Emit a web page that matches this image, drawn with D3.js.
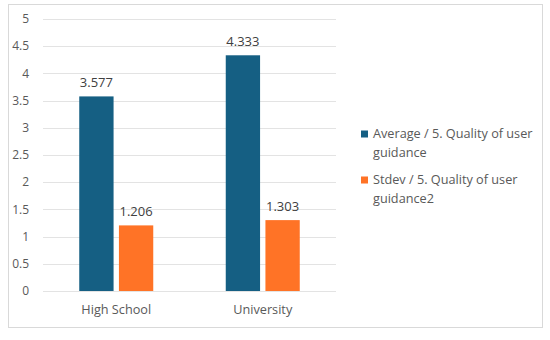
<!DOCTYPE html>
<html><head><meta charset="utf-8">
<script src="https://cdn.jsdelivr.net/npm/d3@7"></script>
<style>body{margin:0;background:#fff;} svg{display:block;font-family:"Open Sans","Liberation Sans",sans-serif;}</style>
</head><body><svg id="c" width="550" height="340"></svg>
<script>
const categories = ["High School", "University"];
const seriesNames = ["Average / 5. Quality of user guidance", "Stdev / 5. Quality of user guidance2"];
const averageValues = [3.577, 4.333];
const stdevValues = [1.206, 1.303];
const yTicks = [0, 0.5, 1, 1.5, 2, 2.5, 3, 3.5, 4, 4.5, 5];
const colors = ["#155F83", "#FF7326"];
const legendLines = [["Average / 5. Quality of user", "guidance"], ["Stdev / 5. Quality of user", "guidance2"]];

const svg = d3.select("#c");
svg.append("rect").attr("x", 8.5).attr("y", 4.5).attr("width", 534).attr("height", 323)
  .attr("fill", "#fff").attr("stroke", "#d9d9d9").attr("stroke-width", 1);

const y = d3.scaleLinear().domain([0, 5]).range([291, 19]);
const x0 = d3.scaleBand().domain(categories).range([43, 336]).paddingInner(0).paddingOuter(0);
const x1 = d3.scaleBand().domain([0, 1]).range([0, 74]).paddingInner(0.135);

svg.append("g").selectAll("line").data(yTicks).join("line")
  .attr("x1", 43).attr("x2", 336)
  .attr("y1", d => Math.round(y(d)) + 0.5).attr("y2", d => Math.round(y(d)) + 0.5)
  .attr("stroke", "#e3e3e3").attr("stroke-width", 1);

svg.append("g").selectAll("text").data(yTicks).join("text")
  .attr("x", 29).attr("y", d => y(d)).attr("dy", "0.35em")
  .attr("text-anchor", "end").attr("font-size", 12).attr("fill", "#595959")
  .text(d => d);

const data = categories.map((c, i) => ({ c, vals: [averageValues[i], stdevValues[i]] }));
const g = svg.append("g");
data.forEach(d => {
  const off = x0(d.c) + (x0.bandwidth() - 74) / 2;
  d.vals.forEach((v, j) => {
    g.append("rect").attr("x", off + x1(j)).attr("y", y(v))
      .attr("width", x1.bandwidth()).attr("height", y(0) - y(v))
      .attr("fill", colors[j]);
    g.append("text").attr("x", off + x1(j) + x1.bandwidth() / 2).attr("y", y(v) - 9)
      .attr("text-anchor", "middle").attr("font-size", 13).attr("fill", "#404040")
      .text(v.toFixed(3));
  });
  svg.append("text").attr("x", x0(d.c) + x0.bandwidth() / 2).attr("y", 310).attr("dy", "0.35em")
    .attr("text-anchor", "middle").attr("font-size", 12.7).attr("fill", "#595959").text(d.c);
});

const leg = svg.append("g");
const legY = [134, 180];
seriesNames.forEach((s, i) => {
  leg.append("rect").attr("x", 361).attr("y", legY[i] - 3.5).attr("width", 7).attr("height", 7).attr("fill", colors[i]);
  legendLines[i].forEach((t, k) => {
    leg.append("text").attr("x", 373).attr("y", legY[i] + k * 19).attr("dy", "0.35em")
      .attr("font-size", 12.7).attr("fill", "#595959").text(t);
  });
});
</script></body></html>
